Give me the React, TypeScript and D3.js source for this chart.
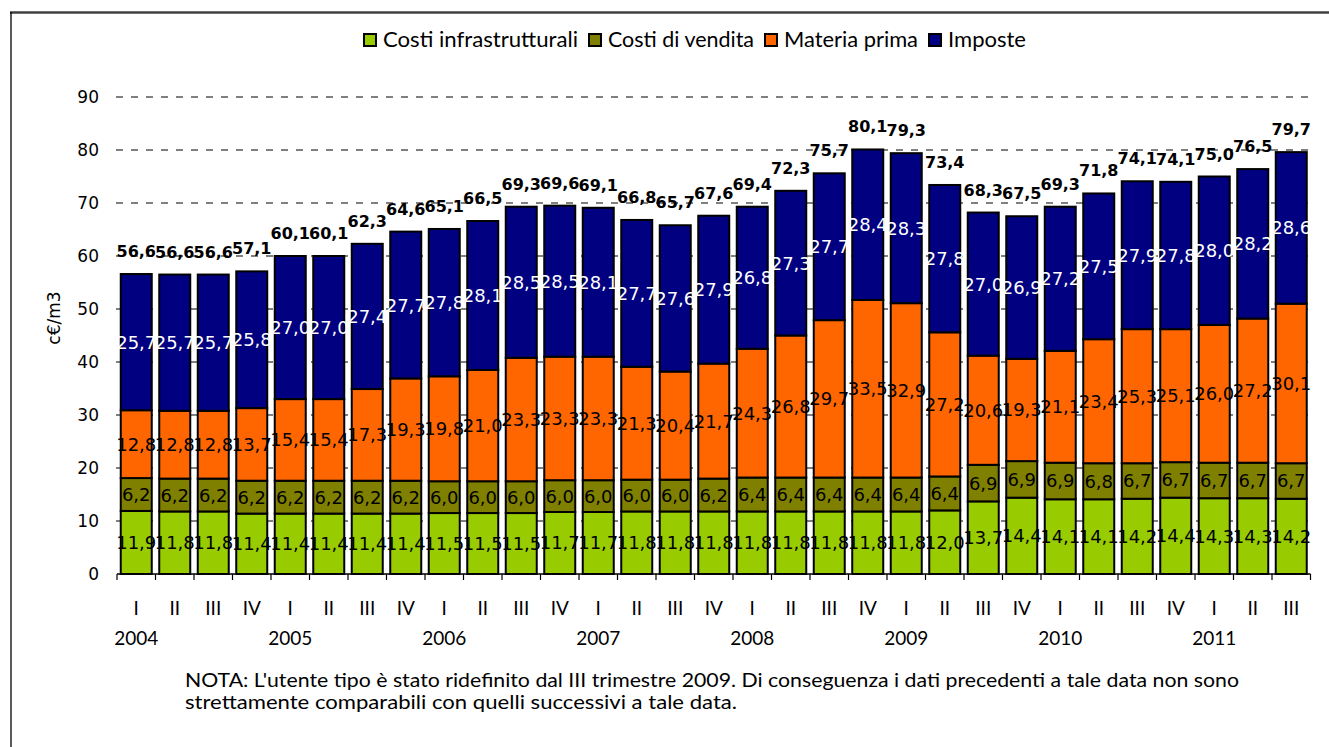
import React, { useEffect, useRef } from "react";
import * as d3 from "d3";

const quarters = ["I","II","III","IV","I","II","III","IV","I","II","III","IV","I","II","III","IV","I","II","III","IV","I","II","III","IV","I","II","III","IV","I","II","III"];
const years = ["2004","","","","2005","","","","2006","","","","2007","","","","2008","","","","2009","","","","2010","","","","2011","",""];
const infrastrutturali = [11.9,11.8,11.8,11.4,11.4,11.4,11.4,11.4,11.5,11.5,11.5,11.7,11.7,11.8,11.8,11.8,11.8,11.8,11.8,11.8,11.8,12.0,13.7,14.4,14.1,14.1,14.2,14.4,14.3,14.3,14.2];
const vendita = [6.2,6.2,6.2,6.2,6.2,6.2,6.2,6.2,6.0,6.0,6.0,6.0,6.0,6.0,6.0,6.2,6.4,6.4,6.4,6.4,6.4,6.4,6.9,6.9,6.9,6.8,6.7,6.7,6.7,6.7,6.7];
const materiaPrima = [12.8,12.8,12.8,13.7,15.4,15.4,17.3,19.3,19.8,21.0,23.3,23.3,23.3,21.3,20.4,21.7,24.3,26.8,29.7,33.5,32.9,27.2,20.6,19.3,21.1,23.4,25.3,25.1,26.0,27.2,30.1];
const imposte = [25.7,25.7,25.7,25.8,27.0,27.0,27.4,27.7,27.8,28.1,28.5,28.5,28.1,27.7,27.6,27.9,26.8,27.3,27.7,28.4,28.3,27.8,27.0,26.9,27.2,27.5,27.9,27.8,28.0,28.2,28.6];
const totals = [56.6,56.6,56.6,57.1,60.1,60.1,62.3,64.6,65.1,66.5,69.3,69.6,69.1,66.8,65.7,67.6,69.4,72.3,75.7,80.1,79.3,73.4,68.3,67.5,69.3,71.8,74.1,74.1,75.0,76.5,79.7];
const seriesNames = ["Costi infrastrutturali","Costi di vendita","Materia prima","Imposte"];
const seriesColors = ["#99CC00","#808000","#FF6600","#000080"];
const labelColors = ["#000","#000","#000","#fff"];
const yTicks = [0,10,20,30,40,50,60,70,80,90];
const yTitle = "c€/m3";
const noteLines = [
  "NOTA: L'utente tipo è stato ridefinito dal III trimestre 2009. Di conseguenza i dati precedenti a tale data non sono",
  "strettamente comparabili con quelli successivi a tale data."
];

const W = 1329, H = 747;
const fmt = (v: number) => d3.format(".1f")(v).replace(".", ",");

export default function App() {
  const ref = useRef<SVGSVGElement>(null);
  useEffect(() => {
    const svg = d3.select(ref.current);
    svg.selectAll("*").remove();

    const keys = ["infra","vend","mat","imp"];
    const rows = quarters.map((q, i) => ({
      idx: String(i), infra: infrastrutturali[i], vend: vendita[i], mat: materiaPrima[i], imp: imposte[i]
    }));
    const stacked = d3.stack<any>().keys(keys)(rows);

    const x = d3.scaleBand<string>()
      .domain(rows.map(r => r.idx))
      .range([117, 1310.5])
      .paddingInner(0.195)
      .paddingOuter(0.0975);
    const y = d3.scaleLinear().domain([0, 90]).range([574, 97]);

    // frame
    svg.append("line").attr("x1", 10).attr("x2", W).attr("y1", 12.5).attr("y2", 12.5)
      .attr("stroke", "#404040").attr("stroke-width", 2.5);
    svg.append("line").attr("x1", 11).attr("x2", 11).attr("y1", 12).attr("y2", H)
      .attr("stroke", "#000").attr("stroke-width", 1.3);

    // gridlines
    svg.append("g").selectAll("line").data(yTicks.filter(t => t > 0)).join("line")
      .attr("x1", 116).attr("x2", 1310).attr("y1", d => y(d)).attr("y2", d => y(d))
      .attr("stroke", "#808080").attr("stroke-width", 2).attr("stroke-dasharray", "7,8");

    // y tick labels
    svg.append("g").selectAll("text").data(yTicks).join("text")
      .attr("x", 99).attr("y", d => y(d)).attr("dy", "0.36em")
      .attr("text-anchor", "end").attr("font-family", "DejaVu Sans").attr("font-size", 17)
      .attr("fill", "#000").text(d => String(d));

    // y title
    svg.append("text").attr("transform", `translate(60,318) rotate(-90)`)
      .attr("text-anchor", "middle").attr("font-family", "DejaVu Sans").attr("font-size", 17)
      .attr("fill", "#000").text(yTitle);

    // bars
    const gBars = svg.append("g");
    stacked.forEach((s, si) => {
      gBars.append("g").selectAll("rect").data(s).join("rect")
        .attr("x", (d: any) => x(d.data.idx)!)
        .attr("width", x.bandwidth())
        .attr("y", (d: any) => y(d[1]))
        .attr("height", (d: any) => y(d[0]) - y(d[1]))
        .attr("fill", seriesColors[si]).attr("stroke", "#000").attr("stroke-width", 2);
    });

    // x axis line and ticks
    svg.append("line").attr("x1", 117).attr("x2", 1310.5).attr("y1", 574).attr("y2", 574)
      .attr("stroke", "#000").attr("stroke-width", 1.5);
    const step = x.step();
    const bounds = d3.range(quarters.length + 1).map(i => 117 + i * step);
    svg.append("g").selectAll("line").data(bounds).join("line")
      .attr("x1", d => d).attr("x2", d => d).attr("y1", 574).attr("y2", 580)
      .attr("stroke", "#000").attr("stroke-width", 1.2);

    // segment labels
    stacked.forEach((s, si) => {
      svg.append("g").selectAll("text").data(s).join("text")
        .attr("x", (d: any) => x(d.data.idx)! + x.bandwidth() / 2)
        .attr("y", (d: any) => (y(d[0]) + y(d[1])) / 2)
        .attr("dy", "0.36em")
        .attr("text-anchor", "middle").attr("font-family", "DejaVu Sans").attr("font-size", 18)
        .attr("fill", labelColors[si])
        .text((d: any) => fmt(d[1] - d[0]));
    });

    // totals
    svg.append("g").selectAll("text").data(totals).join("text")
      .attr("x", (_d, i) => x(String(i))! + x.bandwidth() / 2)
      .attr("y", (_d, i) => y(stacked[3][i][1]) - 17)
      .attr("text-anchor", "middle").attr("font-family", "DejaVu Sans").attr("font-weight", "bold")
      .attr("font-size", 16).attr("fill", "#000").text(d => fmt(d));

    // category labels
    svg.append("g").selectAll("text").data(quarters).join("text")
      .attr("x", (_d, i) => x(String(i))! + x.bandwidth() / 2).attr("y", 615)
      .attr("text-anchor", "middle").attr("font-family", "Lato").attr("font-size", 19)
      .attr("fill", "#000").text(d => d);
    svg.append("g").selectAll("text").data(years).join("text")
      .attr("x", (_d, i) => x(String(i))! + x.bandwidth() / 2).attr("y", 645)
      .attr("text-anchor", "middle").attr("font-family", "Lato").attr("font-size", 19)
      .attr("fill", "#000").text(d => d);

    // legend
    const legendWidths = [195, 146, 134, 78];
    const leg = svg.append("g");
    let lx = 364;
    seriesNames.forEach((n, i) => {
      leg.append("rect").attr("x", lx).attr("y", 34).attr("width", 12).attr("height", 12)
        .attr("fill", seriesColors[i]).attr("stroke", "#000").attr("stroke-width", 2);
      leg.append("text").attr("x", lx + 19).attr("y", 47)
        .attr("font-family", "Lato").attr("font-size", 21).attr("fill", "#000")
        .attr("textLength", legendWidths[i]).attr("lengthAdjust", "spacingAndGlyphs").text(n);
      lx = lx + 19 + legendWidths[i] + 11;
    });

    // note
    const noteWidths = [1054, 552];
    svg.append("g").selectAll("text").data(noteLines).join("text")
      .attr("x", 185).attr("y", (_d, i) => 687 + i * 22)
      .attr("font-family", "Lato").attr("font-size", 20).attr("fill", "#000")
      .attr("textLength", (_d, i) => noteWidths[i]).attr("lengthAdjust", "spacingAndGlyphs")
      .text(d => d);
  }, []);

  return (
    <svg ref={ref} width={W} height={H} style={{ position: "absolute", left: 0, top: 0, background: "#fff" }} />
  );
}
